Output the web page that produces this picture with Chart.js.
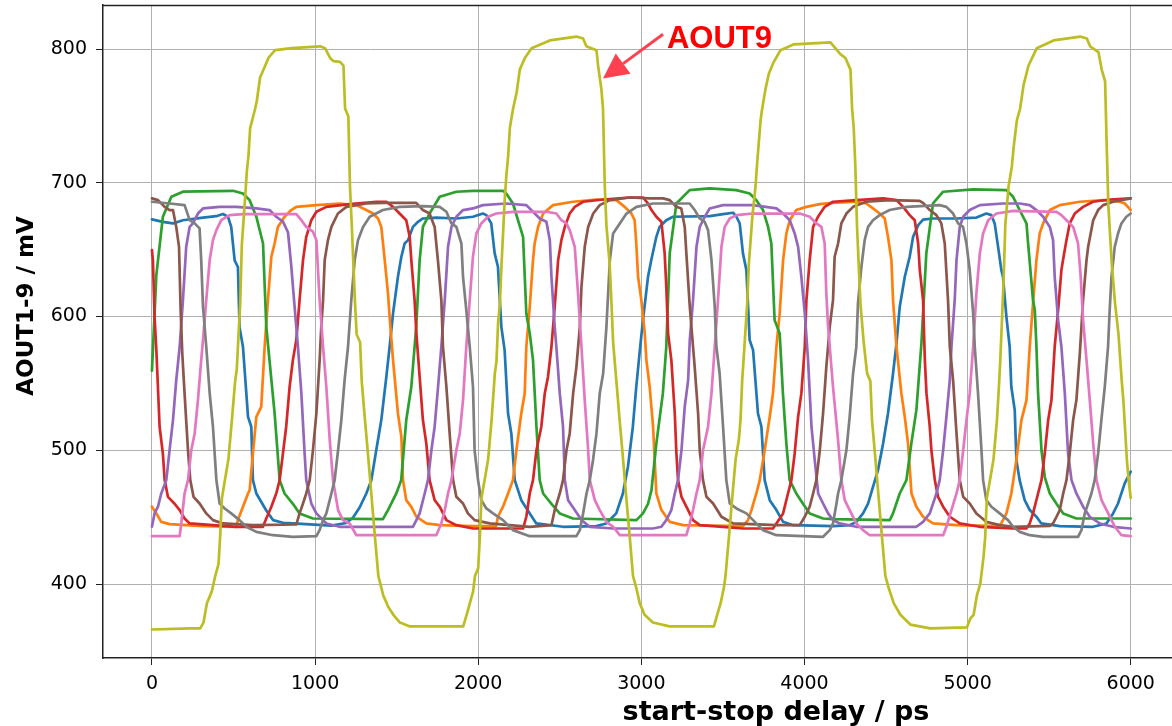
<!DOCTYPE html>
<html>
<head>
<meta charset="utf-8">
<script src="https://cdn.jsdelivr.net/npm/chart.js@4.4.1/dist/chart.umd.min.js"></script>
<style>
html,body{margin:0;padding:0;background:#fff;}
#wrap{width:1172px;height:726px;position:relative;}
</style>
</head>
<body>
<div id="wrap"><canvas id="c" width="1172" height="726"></canvas></div>
<script>
// ---- tick labels ----
const xTicks = [0, 1000, 2000, 3000, 4000, 5000, 6000];
const yTicks = [400, 500, 600, 700, 800];
const seriesNames = ["AOUT1","AOUT2","AOUT3","AOUT4","AOUT5","AOUT6","AOUT7","AOUT8","AOUT9"];
const xAxisLabel = "start-stop delay / ps";
const yAxisLabel = "AOUT1-9 / mV";
const annotationText = "AOUT9";

// ---- series values: [delay ps, mV] ----
const AOUT1 = [[0,672.6],[67,670.8],[129,669.6],[190,672],[313,674],[394,675],[435,676.6],[466,674.6],[486,667],[507,642],[527,637],[537,592],[558,577.4],[589,525],[609,517.6],[619,477.7],[640,467.7],[701,455],[742,447.8],[803,445.8],[864,445.3],[1100,443.7],[1191,445.6],[1232,449.6],[1273,457.2],[1314,467.7],[1345,477.7],[1375,500],[1406,522.6],[1437,555],[1457,577.4],[1478,602.3],[1508,629.7],[1529,644.7],[1549,654.6],[1570,657.1],[1600,667],[1631,670.8],[1661,673.3],[1743,674],[1866,673.3],[1968,674.6],[2029,677],[2050,675.8],[2080,669.6],[2101,647.2],[2121,637.2],[2142,592.3],[2162,574.9],[2183,527.5],[2203,512.6],[2224,477.7],[2264,462.7],[2316,452.8],[2356,445.3],[2520,442.8],[2724,443.3],[2785,445.3],[2846,452.8],[2887,467.7],[2918,487.7],[2948,517.6],[2969,547.5],[2989,572.4],[3010,597.3],[3041,629.7],[3061,642.2],[3092,659.6],[3112,667],[3153,672],[3194,674.6],[3419,675],[3501,676.6],[3562,677.6],[3583,674.6],[3603,669.6],[3623,647.2],[3644,634.7],[3664,582.4],[3685,574.9],[3715,527.5],[3736,517.6],[3756,477.7],[3787,462.7],[3828,455.3],[3869,446.5],[3930,444],[4175,443.3],[4277,444],[4318,446.5],[4359,452.8],[4390,460.2],[4420,472.7],[4451,485.2],[4482,505],[4512,527.5],[4543,557.4],[4564,579.9],[4584,607.3],[4615,629.7],[4645,644.7],[4666,659.6],[4697,668.3],[4727,672.4],[4788,673.3],[4931,673.3],[5054,674],[5115,677],[5146,675.8],[5166,669.6],[5187,652.1],[5207,634.7],[5217,629.7],[5238,599.8],[5258,577.4],[5268,547.5],[5289,530],[5299,492.7],[5319,477.7],[5350,462.7],[5381,455.3],[5422,450.3],[5452,445.3],[5565,443.3],[5769,442.8],[5851,445.3],[5892,452.8],[5922,460.2],[5963,475.2],[6000,484]];

const AOUT2 = [[0,457.8],[27,452.8],[57,446.5],[108,444.8],[313,443.3],[517,442.8],[527,447.8],[558,457.8],[589,467.7],[599,470.2],[619,497.6],[640,525],[670,532.5],[691,577.4],[711,612.3],[732,644.7],[752,654.6],[772,667],[813,674.6],[854,679.6],[885,682],[1008,683.3],[1151,684.5],[1253,683.3],[1314,679.6],[1355,677],[1386,673.3],[1406,667],[1427,642.2],[1447,617.3],[1457,599.8],[1478,567.4],[1508,527.5],[1529,510.1],[1539,477.7],[1559,462.7],[1590,457.7],[1621,450.3],[1682,445.3],[1764,444],[1968,443.3],[2110,443.3],[2121,450.3],[2152,457.8],[2183,467.7],[2213,477.7],[2234,500],[2264,527.5],[2285,542.5],[2295,577.4],[2316,607.3],[2336,642.2],[2346,654.6],[2367,667],[2398,677],[2459,683.3],[2582,685.8],[2725,687.5],[2847,687],[2898,682],[2939,677],[2959,672],[2969,654.6],[2980,629.7],[3000,612.3],[3021,587.4],[3031,567.4],[3051,547.5],[3072,517.6],[3092,467.7],[3123,455.3],[3174,446.5],[3256,444],[3623,443.3],[3654,447.8],[3675,455.3],[3705,467.7],[3726,477.7],[3756,500],[3787,525],[3807,542.5],[3828,577.4],[3848,602.3],[3869,642.2],[3889,662.1],[3910,672],[3950,679.6],[4012,682],[4093,684],[4175,685],[4318,685.8],[4379,684.5],[4420,680.8],[4461,677],[4492,673.3],[4512,659.6],[4533,642.2],[4543,612.3],[4564,577.4],[4594,542.5],[4615,525],[4635,505],[4656,467.7],[4686,457.8],[4727,450.3],[4788,445.3],[4931,444],[5197,443.3],[5217,447.8],[5238,452.8],[5268,467.7],[5299,492.7],[5330,522.6],[5361,537.5],[5381,577.4],[5401,609.8],[5422,642.2],[5442,662.1],[5463,669.6],[5504,679.6],[5565,683.3],[5688,685.8],[5831,687],[5933,685.8],[5964,684.5],[6000,679.6]];

const AOUT3 = [[0,559.5],[27,631],[67,674.6],[119,689.5],[190,693.3],[497,694],[558,692],[599,687],[640,674.6],[681,654.6],[701,592.3],[752,527.5],[783,477.7],[813,467.7],[864,460],[905,452.8],[987,449],[1416,448.5],[1447,455.3],[1498,467.7],[1528,477.7],[1559,522.6],[1590,547.5],[1620,592.3],[1641,642],[1661,667],[1702,677],[1764,689.5],[1866,693.3],[1968,694],[2152,694],[2172,692],[2213,684.5],[2275,659.6],[2295,602.3],[2316,587.4],[2336,567.4],[2357,517.6],[2377,477.7],[2398,467.7],[2449,460],[2500,452.8],[2581,449],[2970,447.8],[3010,452.8],[3041,460],[3062,470],[3092,505],[3132,542.5],[3153,577.4],[3174,647.2],[3215,684.5],[3296,694.5],[3419,695.8],[3582,694.5],[3664,692],[3705,687],[3746,679.6],[3777,667],[3797,654.6],[3817,597.3],[3848,587.4],[3868,542.5],[3889,505],[3909,477.7],[3950,467.7],[3991,460],[4032,452.8],[4114,449],[4175,448.5],[4523,447.8],[4543,452.8],[4584,467.7],[4625,477.7],[4655,505],[4686,530],[4717,580],[4747,647.2],[4788,684.5],[4850,693.3],[5033,695],[5238,694.5],[5279,689.5],[5299,684.5],[5340,674.6],[5361,669.6],[5371,654.6],[5401,612.3],[5412,604.8],[5422,577.4],[5432,542.5],[5453,500],[5473,480],[5504,467.7],[5545,460],[5586,452.8],[5667,449],[6000,449]];

const AOUT4 = [[0,649.7],[6,642],[16,600],[27,575],[47,517.6],[67,497.6],[78,477.7],[98,465.2],[139,460],[170,455.3],[200,449],[231,445.3],[517,442.8],[680,442.8],[701,449],[732,457.8],[762,467.7],[783,477.7],[803,497.6],[823,517.6],[844,547.5],[864,567.4],[885,582.4],[905,612.3],[926,642.2],[946,659.6],[977,672],[1008,678.3],[1069,682],[1212,684],[1375,685.8],[1437,685.8],[1478,682],[1518,677],[1559,672],[1580,659.6],[1590,642.2],[1610,612.3],[1621,587.4],[1641,555],[1661,522.6],[1682,505],[1702,477.7],[1733,462.7],[1764,457.8],[1805,447.8],[1866,444],[1968,441.5],[2275,441.5],[2295,450.3],[2316,467.7],[2336,477.7],[2357,500],[2387,517.6],[2408,542.5],[2428,555],[2449,577.4],[2469,607.3],[2490,642.2],[2510,657.1],[2531,667],[2561,677],[2592,682],[2643,685.8],[2766,687.5],[2929,689],[3010,689],[3041,684.5],[3062,679.6],[3092,674.6],[3123,670.8],[3143,647.2],[3153,622.4],[3164,587.4],[3184,567.4],[3205,527.5],[3215,497.6],[3225,477.7],[3246,465.2],[3276,457.8],[3317,447.8],[3358,444],[3623,441.5],[3807,441.5],[3828,445.3],[3869,452.8],[3899,467.7],[3920,477.7],[3940,497.6],[3961,525],[3981,542.5],[4002,577.4],[4012,612.3],[4032,642.2],[4053,667],[4083,674.6],[4124,682],[4175,685.8],[4318,687],[4482,688.3],[4564,687],[4605,682],[4645,675.8],[4676,672],[4697,654.6],[4707,634.7],[4727,612.3],[4738,567.4],[4748,542.5],[4768,517.6],[4778,500],[4799,477.7],[4819,465.2],[4850,457.8],[4891,450.3],[4952,445.3],[5074,442.8],[5278,441.5],[5360,441.5],[5381,445.3],[5401,452.8],[5432,467.7],[5453,477.7],[5473,497.6],[5494,522.6],[5514,537.5],[5534,577.4],[5555,604.8],[5575,634.7],[5585,642.2],[5606,657.1],[5626,669.6],[5657,677],[5708,682],[5769,685.8],[5871,687.5],[6000,688.3]];

const AOUT5 = [[0,442.8],[16,452.8],[37,457.8],[57,467.7],[88,477.7],[108,500],[129,522.6],[149,552.5],[170,577.4],[190,612.3],[210,652.1],[231,667],[251,669.6],[282,677],[313,680.8],[415,682],[517,682],[640,680.8],[721,679.6],[762,674.6],[803,671],[834,663],[854,638],[870,614],[895,577.4],[916,542.5],[936,497.6],[946,477.7],[977,460.2],[1008,452.8],[1069,445.3],[1151,442.8],[1600,442.8],[1621,447.8],[1641,452.8],[1672,467.7],[1692,477.7],[1713,500],[1733,517.6],[1754,547.5],[1774,577.4],[1795,612.3],[1815,652.1],[1836,667],[1866,674.6],[1907,679.6],[1968,680.8],[2029,683.3],[2172,684.5],[2295,683.3],[2336,678.3],[2377,673.3],[2418,670.8],[2439,657.1],[2449,629.7],[2469,592.3],[2479,577.4],[2500,542.5],[2520,517.6],[2531,477.7],[2551,462.7],[2592,455.3],[2633,447.8],[2684,442.8],[2827,441.5],[3072,441.5],[3123,442.8],[3153,447.8],[3184,455.3],[3205,467.7],[3225,477.7],[3246,500],[3266,532.5],[3287,552.5],[3297,582.4],[3317,612.3],[3338,652.1],[3358,667],[3389,674.6],[3419,680.8],[3501,683.3],[3685,683.3],[3828,680.8],[3869,677],[3910,672],[3940,662.1],[3961,652.1],[3981,629.7],[4002,602.3],[4022,567.4],[4043,517.6],[4063,492.7],[4084,467.7],[4114,460.2],[4145,452.8],[4175,447.8],[4216,445.3],[4318,442.8],[4686,442.8],[4727,446.5],[4768,452.8],[4809,467.7],[4829,477.7],[4850,500],[4870,525],[4891,552.5],[4901,577.4],[4921,612.3],[4932,642.2],[4952,667],[4973,674.6],[5013,679.6],[5075,683.3],[5217,684.5],[5319,684.5],[5381,683.3],[5422,679.6],[5463,674.6],[5504,667],[5524,657.1],[5534,629.7],[5555,597.3],[5575,577.4],[5596,542.5],[5616,497.6],[5637,477.7],[5667,467.7],[5708,457.8],[5749,450.3],[5810,445.3],[5892,442.8],[6000,441.5]];

const AOUT6 = [[0,688.3],[37,687],[78,682],[108,679.6],[129,679.6],[149,667],[166,652.1],[176,604.8],[186,572.4],[200,542.5],[221,500],[235,477.7],[255,465.2],[292,460.2],[333,452.8],[374,447.8],[435,445.3],[619,444],[885,444.5],[905,452.8],[926,460.2],[946,467.7],[967,477.7],[987,500],[1008,527.5],[1028,567.4],[1038,592.3],[1049,612.3],[1059,642.2],[1079,657.1],[1100,667],[1140,677],[1192,682],[1314,684.5],[1416,685],[1620,685],[1661,679.6],[1702,677],[1733,667],[1753,642.2],[1774,612.3],[1784,577.4],[1805,547.5],[1825,512.6],[1846,477.7],[1866,465.2],[1907,460.2],[1937,452.8],[1978,447.8],[2070,445.3],[2316,442.8],[2449,444],[2469,455.3],[2500,467.7],[2520,477.7],[2541,500],[2561,512.6],[2582,542.5],[2602,562.4],[2623,592.3],[2633,622.4],[2653,652.1],[2674,667],[2705,677],[2745,683.3],[2807,687],[2929,689],[3052,688.3],[3133,688.3],[3174,687],[3215,682],[3245,680.8],[3266,667],[3276,647.2],[3297,607.3],[3317,577.4],[3327,562.4],[3348,527.5],[3358,500],[3378,477.7],[3399,465.2],[3440,460.2],[3491,450.3],[3562,445.3],[3828,444],[3971,444],[4002,450.3],[4032,457.8],[4053,467.7],[4073,477.7],[4094,500],[4114,527.5],[4134,562.4],[4155,592.3],[4175,612.3],[4185,644.7],[4206,654.6],[4226,669.6],[4257,677],[4298,682],[4379,685.8],[4522,687],[4706,686.5],[4727,685],[4768,679.6],[4809,675.8],[4839,669.6],[4860,654.6],[4880,612.3],[4891,577.4],[4911,552.5],[4932,512.6],[4952,477.7],[4973,465.2],[5013,460.2],[5054,452.8],[5115,446.5],[5197,444],[5278,442.8],[5504,443.5],[5524,445.3],[5545,450.3],[5565,455.3],[5586,467.7],[5606,477.7],[5626,497.6],[5647,522.6],[5667,537.5],[5688,572.4],[5708,612.3],[5729,642.2],[5739,652.1],[5770,672],[5800,679.6],[5831,683.3],[5892,685.8],[6000,688.3]];

const AOUT7 = [[0,435.8],[170,435.8],[180,445.3],[200,467.7],[221,477.7],[241,500],[262,512.6],[282,537.5],[302,567.4],[313,582.4],[333,612.3],[354,642.2],[374,657.1],[395,664.6],[425,672],[476,675.8],[558,676.6],[885,676.6],[916,672],[946,667],[987,663.4],[1008,657.1],[1028,612.3],[1049,577.4],[1069,547.5],[1090,507.6],[1110,477.7],[1141,455.3],[1171,447.8],[1212,445.3],[1253,436.5],[1743,436.5],[1774,445.3],[1795,455.3],[1815,467.7],[1836,477.7],[1866,500],[1887,512.6],[1907,537.5],[1927,577.4],[1948,612.3],[1968,645],[1989,662.1],[2019,669.6],[2060,674.6],[2111,677],[2213,678.3],[2418,678.3],[2479,677],[2510,672],[2541,669.6],[2561,664.6],[2592,652.1],[2612,617.3],[2633,577.4],[2653,537.5],[2674,500],[2684,477.7],[2715,462.7],[2745,455.3],[2786,446.5],[2827,442.8],[2868,436.5],[3276,436.5],[3297,445.3],[3317,455.3],[3338,467.7],[3358,477.7],[3378,500],[3409,517.6],[3430,542.5],[3450,577.4],[3470,612.3],[3491,652.1],[3511,667],[3542,673.3],[3583,675.8],[3685,677],[3971,677],[4032,674.6],[4073,669.6],[4104,667],[4124,654.6],[4134,617.3],[4145,592.3],[4155,577.4],[4175,547.5],[4206,507.6],[4226,477.7],[4247,462.7],[4277,455.3],[4318,445.3],[4359,440.3],[4400,436.5],[4850,436.5],[4870,442.8],[4901,455.3],[4932,467.7],[4952,477.7],[4973,500],[4993,522.6],[5013,542.5],[5034,577.4],[5054,617.3],[5075,647.2],[5095,662.1],[5126,672],[5177,677],[5278,679],[5545,678.3],[5575,675.8],[5606,672],[5647,667],[5677,654.6],[5692,632.2],[5708,597.3],[5729,567.4],[5749,537.5],[5770,505],[5790,477.7],[5821,462.7],[5862,452.8],[5903,442.8],[5943,436.5],[6000,435.8]];

const AOUT8 = [[0,685.8],[108,684.5],[200,683.3],[221,675.8],[231,672],[262,669.6],[292,665.9],[302,642.2],[313,607.3],[333,577.4],[354,542.5],[374,517.6],[395,477.7],[415,460.2],[446,456.5],[486,452.8],[537,447.8],[578,442.8],[640,439],[742,436.5],[864,435.3],[1008,435.8],[1028,440.3],[1049,447.8],[1069,452.8],[1100,467.7],[1120,477.7],[1141,500],[1161,522.6],[1181,552.5],[1202,577.4],[1222,612.3],[1243,642.2],[1263,657.1],[1294,667],[1335,674.6],[1416,679.6],[1518,682],[1661,682.5],[1764,682],[1805,678.3],[1836,669.6],[1866,667],[1897,654.6],[1907,629.7],[1927,604.8],[1948,577.4],[1968,547.5],[1978,500],[1999,477.7],[2019,462.7],[2050,456.5],[2091,452.8],[2152,447.8],[2213,440.3],[2316,435.8],[2602,435.8],[2623,440.3],[2643,452.8],[2664,467.7],[2684,477.7],[2704,492.7],[2725,512.6],[2745,542.5],[2766,557.4],[2786,592.3],[2807,642.2],[2827,662.1],[2868,669.6],[2909,677],[2970,682],[3072,684.5],[3296,684.5],[3327,679.6],[3358,673.3],[3388,670.8],[3409,664.6],[3430,642.2],[3450,607.3],[3460,577.4],[3480,557.4],[3501,517.6],[3521,477.7],[3542,460.2],[3583,456.5],[3644,452.8],[3685,447.8],[3746,440.3],[3828,436.5],[4114,435.3],[4155,440.3],[4175,445.3],[4196,460],[4206,467.7],[4226,477.7],[4257,500],[4277,525],[4298,557.4],[4318,577.4],[4328,609.8],[4349,637.2],[4369,657.1],[4390,667],[4420,672],[4461,675.8],[4522,679.6],[4625,682],[4829,683.3],[4870,682],[4911,677],[4942,669.6],[4972,667],[4993,654.6],[5013,634.7],[5034,602.3],[5044,577.4],[5064,542.5],[5085,500],[5095,477.7],[5115,462.7],[5146,457.8],[5197,452.8],[5248,447.8],[5279,442.8],[5320,439],[5381,436.5],[5463,435.3],[5677,435.3],[5698,440.3],[5718,452.8],[5739,460.2],[5759,467.7],[5779,477.7],[5800,497.6],[5820,522.6],[5841,547.5],[5861,577.4],[5871,604.8],[5882,629.7],[5902,652.1],[5922,662.1],[5943,669.6],[5973,674.6],[6000,677]];

const AOUT9 = [[0,366],[235,366.8],[296,366.8],[316,371.2],[337,385.7],[367,394.5],[388,406],[408,414.9],[418,435.2],[429,464.3],[449,478.9],[469,493.4],[490,522.6],[510,551.7],[520,560.4],[531,586.6],[541,609.9],[551,653.6],[571,688.5],[582,708.9],[592,720.5],[602,740.9],[633,755.5],[643,761.3],[663,778.7],[694,787.5],[714,793.3],[755,799.1],[857,800.6],[1031,802],[1061,800.6],[1092,793.3],[1112,791],[1153,790.4],[1174,787.5],[1184,755.5],[1204,749.6],[1214,697.2],[1225,668.1],[1245,609.9],[1255,586.6],[1276,580.8],[1286,551.7],[1306,522.6],[1327,493.4],[1347,464.3],[1367,435.2],[1388,406],[1418,391.5],[1449,382.8],[1480,377],[1520,371.2],[1582,368.3],[1908,368.3],[1929,377],[1949,385.7],[1969,394.5],[1980,406],[2000,411.9],[2010,435.2],[2020,464.3],[2041,478.9],[2061,493.4],[2082,522.6],[2102,557.5],[2112,566.3],[2122,595.3],[2133,609.9],[2143,639],[2163,688.5],[2173,705.9],[2184,720.5],[2194,740.9],[2214,755.5],[2235,767.1],[2255,784.6],[2286,793.3],[2327,800.6],[2439,806.4],[2602,809.3],[2643,807.9],[2663,802],[2694,800.6],[2725,799.1],[2735,787.5],[2755,770],[2765,755.5],[2776,697.2],[2786,668.1],[2806,639],[2817,609.9],[2827,580.8],[2847,551.7],[2867,522.6],[2888,493.4],[2908,464.3],[2929,435.2],[2949,406],[2969,397.2],[2990,385.7],[3020,377],[3071,371.2],[3173,368.3],[3445,368.3],[3465,377],[3486,385.7],[3506,397.2],[3516,406],[3537,435.2],[3557,464.3],[3578,493.4],[3598,508],[3608,522.6],[3618,551.7],[3629,572.1],[3649,609.9],[3659,639],[3680,673.9],[3700,697.2],[3710,714.7],[3731,746.7],[3741,755.5],[3761,770],[3782,781.7],[3812,790.4],[3853,799.1],[3935,803.5],[4159,805],[4180,802],[4220,796.2],[4251,793.3],[4282,784.6],[4292,755.5],[4302,740.9],[4312,711.8],[4322,668.1],[4343,609.9],[4363,580.8],[4384,557.5],[4404,551.7],[4414,522.6],[4435,493.4],[4455,464.3],[4475,435.2],[4496,406],[4516,397.2],[4547,385.7],[4588,377],[4649,369.7],[4771,366.8],[4996,367.6],[5016,374.1],[5037,377],[5057,391.5],[5078,400.3],[5098,420.7],[5108,435.2],[5118,464.3],[5139,478.9],[5159,493.4],[5180,522.6],[5190,543],[5200,566.3],[5210,595.3],[5220,624.5],[5231,668.1],[5251,697.2],[5271,711.8],[5282,726.3],[5302,746.7],[5322,755.5],[5343,773],[5373,787.5],[5424,800.6],[5527,806.4],[5690,809.3],[5731,807.9],[5751,802],[5802,797.7],[5822,784.6],[5843,775.8],[5853,726.3],[5863,682.7],[5884,639],[5904,609.9],[5925,586.6],[5945,551.7],[5955,537.2],[5965,516.7],[5976,493.4],[5986,478.9],[6000,464.3]];

// ---- annotation anchor points (data coordinates) ----
const arrowTip = [2765, 778];
const arrowTail = [3133, 811];
const textAnchor = [3157, 800.5];

// ---- styling ----
const colors = ['#1f77b4','#ff7f0e','#2ca02c','#d62728','#9467bd','#8c564b','#e377c2','#7f7f7f','#bcbd22'];
const allSeries = [AOUT1, AOUT2, AOUT3, AOUT4, AOUT5, AOUT6, AOUT7, AOUT8, AOUT9];

const datasets = allSeries.map((s, i) => ({
  label: seriesNames[i],
  data: s.map(p => ({x: p[0], y: p[1]})),
  borderColor: colors[i],
  backgroundColor: colors[i],
  borderWidth: 2.7,
  borderJoinStyle: 'round',
  borderCapStyle: 'round',
  pointRadius: 0,
  tension: 0,
  fill: false,
  order: allSeries.length - i
}));

const decorPlugin = {
  id: 'decor',
  afterDraw(chart) {
    const ctx = chart.ctx;
    const ca = chart.chartArea;
    const xs = chart.scales.x, ys = chart.scales.y;
    ctx.save();
    // top spine
    ctx.strokeStyle = '#222';
    ctx.lineWidth = 1.5;
    ctx.beginPath();
    ctx.moveTo(ca.left, ca.top + 0.5);
    ctx.lineTo(ca.right, ca.top + 0.5);
    ctx.stroke();

    // annotation arrow
    const tx = xs.getPixelForValue(arrowTip[0]), ty = ys.getPixelForValue(arrowTip[1]);
    const sx = xs.getPixelForValue(arrowTail[0]), sy = ys.getPixelForValue(arrowTail[1]);
    const ang = Math.atan2(ty - sy, tx - sx);
    const headLen = 25, headHalf = 12.5;
    const bx = tx - headLen * Math.cos(ang), by = ty - headLen * Math.sin(ang);
    ctx.strokeStyle = '#ff4050';
    ctx.fillStyle = '#ff4050';
    ctx.lineWidth = 3;
    ctx.beginPath();
    ctx.moveTo(sx, sy);
    ctx.lineTo(bx, by);
    ctx.stroke();
    ctx.beginPath();
    ctx.moveTo(tx, ty);
    ctx.lineTo(bx + headHalf * Math.sin(ang), by - headHalf * Math.cos(ang));
    ctx.lineTo(bx - headHalf * Math.sin(ang), by + headHalf * Math.cos(ang));
    ctx.closePath();
    ctx.fill();

    // annotation text
    ctx.fillStyle = '#ff0000';
    ctx.font = 'bold 31px "Liberation Sans", Arial, sans-serif';
    ctx.textAlign = 'left';
    ctx.textBaseline = 'alphabetic';
    ctx.fillText(annotationText, xs.getPixelForValue(textAnchor[0]), ys.getPixelForValue(textAnchor[1]));

    // axis titles
    ctx.fillStyle = '#000';
    ctx.font = 'bold 27px "DejaVu Sans", sans-serif';
    ctx.textAlign = 'center';
    ctx.textBaseline = 'alphabetic';
    ctx.fillText(xAxisLabel, 776, 720);
    ctx.translate(33, 306);
    ctx.rotate(-Math.PI / 2);
    ctx.font = 'bold 23px "DejaVu Sans", sans-serif';
    ctx.fillText(yAxisLabel, 0, 0);
    ctx.restore();
  }
};

function zeroPad(s) { s.paddingTop = 0; s.paddingBottom = 0; s.paddingLeft = 0; s.paddingRight = 0; }

new Chart(document.getElementById('c'), {
  type: 'line',
  data: { datasets },
  options: {
    responsive: false,
    devicePixelRatio: 1,
    animation: false,
    events: [],
    layout: { padding: { top: 5, right: 0, left: 0, bottom: 0 } },
    plugins: { legend: { display: false }, tooltip: { enabled: false }, title: { display: false } },
    scales: {
      x: {
        type: 'linear',
        min: -300,
        max: 6253,
        afterBuildTicks: (s) => { s.ticks = xTicks.map(v => ({ value: v })); },
        afterFit: (s) => { s.height = 68; zeroPad(s); },
        ticks: { font: { family: 'DejaVu Sans', size: 19 }, color: '#000', padding: 8, maxRotation: 0, callback: (v) => String(v) },
        grid: { color: '#b0b0b0', lineWidth: 1, tickColor: '#222', tickLength: 7, drawOnChartArea: true },
        border: { display: true, color: '#222', width: 1.5 }
      },
      y: {
        type: 'linear',
        min: 344.7,
        max: 832.9,
        afterBuildTicks: (s) => { s.ticks = yTicks.map(v => ({ value: v })); },
        afterFit: (s) => { s.width = 103; zeroPad(s); },
        ticks: { font: { family: 'DejaVu Sans', size: 19 }, color: '#000', padding: 9, callback: (v) => String(v) },
        grid: { color: '#b0b0b0', lineWidth: 1, tickColor: '#222', tickLength: 7 },
        border: { display: true, color: '#222', width: 1.5 }
      }
    }
  },
  plugins: [decorPlugin]
});
</script>
</body>
</html>
